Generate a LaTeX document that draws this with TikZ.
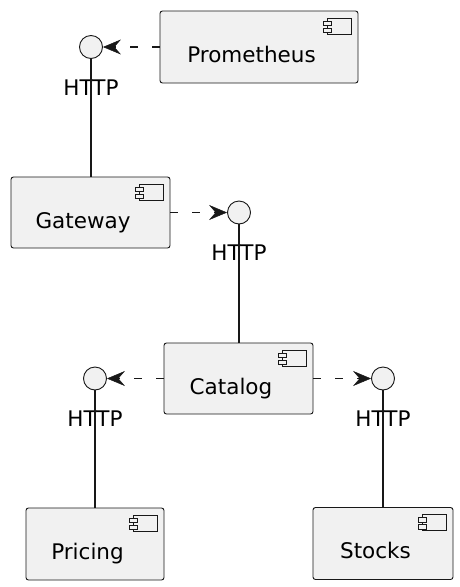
\documentclass[tikz,border=0pt]{standalone}
\usepackage{fontspec}
\setmainfont{DejaVu Sans}
\usetikzlibrary{calc,arrows.meta}
\definecolor{boxfill}{HTML}{F1F1F1}
\definecolor{boxline}{HTML}{181818}
\tikzset{
  comp/.style={draw=boxline, fill=boxfill, line width=0.9pt, rounded corners=2.5pt, inner sep=0pt},
  iface/.style={circle, draw=boxline, fill=boxfill, line width=0.9pt, minimum size=23pt, inner sep=0pt},
  txt/.style={font=\fontsize{21.5}{25}\selectfont, inner sep=0pt, anchor=base},
  dep/.style={draw=boxline, line width=1.2pt, dash pattern=on 8pt off 14pt, -{Stealth[length=18pt, width=15pt, inset=6.5pt, line width=0.5pt, fill=boxline]}},
  link/.style={draw=boxline, line width=1.2pt},
  icon/.style={draw=boxline, fill=boxfill, line width=0.8pt}
}
\newcommand\CompIcon[1]{%
  \draw[icon] ($(#1.north east)+(-31,7.5)$) rectangle ($(#1.north east)+(-7.5,23.5)$);
  \draw[icon] ($(#1.north east)+(-35,10.5)$) rectangle ($(#1.north east)+(-27,15)$);
  \draw[icon] ($(#1.north east)+(-35,17.5)$) rectangle ($(#1.north east)+(-27,22)$);
}
\begin{document}
\begin{tikzpicture}[x=1pt, y=-1pt]
\useasboundingbox (0,0) rectangle (460,587);
% components
\node[comp, minimum width=198pt, minimum height=72pt] (prom) at (259,47) {};
\node[comp, minimum width=159pt, minimum height=71pt] (gw) at (90.5,212.5) {};
\node[comp, minimum width=149pt, minimum height=71pt] (cat) at (238.5,378.5) {};
\node[comp, minimum width=138pt, minimum height=72pt] (pri) at (95,544) {};
\node[comp, minimum width=140pt, minimum height=72pt] (sto) at (383,543.5) {};
\foreach \n in {prom,gw,cat,pri,sto} {\CompIcon{\n}}
\node[txt] (promT) at ($(prom.north)+(-7.5,51.5)$) {Prometheus};
\node[txt] (gwT) at ($(gw.north)+(-7.5,51.5)$) {Gateway};
\node[txt] (catT) at ($(cat.north)+(-7.5,51.5)$) {Catalog};
\node[txt] (priT) at ($(pri.north)+(-7.5,51.5)$) {Pricing};
\node[txt] (stoT) at ($(sto.north)+(-7.5,51.5)$) {Stocks};
% interfaces
\node[iface] (i1) at (91,47) {};
\node[iface] (i2) at (239,212.5) {};
\node[iface] (i3) at (95,378.5) {};
\node[iface] (i4) at (383,378.5) {};
\node[txt] (h1) at ($(i1.center)+(0,48)$) {HTTP};
\node[txt] (h2) at ($(i2.center)+(0,48)$) {HTTP};
\node[txt] (h3) at ($(i3.center)+(0,48)$) {HTTP};
\node[txt] (h4) at ($(i4.center)+(0,48)$) {HTTP};
% links
\draw[link] (i1.south) -- (i1.south |- gw.north);
\draw[link] (i2.south) -- (i2.south |- cat.north);
\draw[link] (i3.south) -- (i3.south |- pri.north);
\draw[link] (i4.south) -- (i4.south |- sto.north);
% dependencies
\draw[dep] (prom.west) -- (i1.east);
\draw[dep] (gw.east) -- (i2.west);
\draw[dep] (cat.west) -- (i3.east);
\draw[dep] (cat.east) -- (i4.west);
\end{tikzpicture}
\end{document}
